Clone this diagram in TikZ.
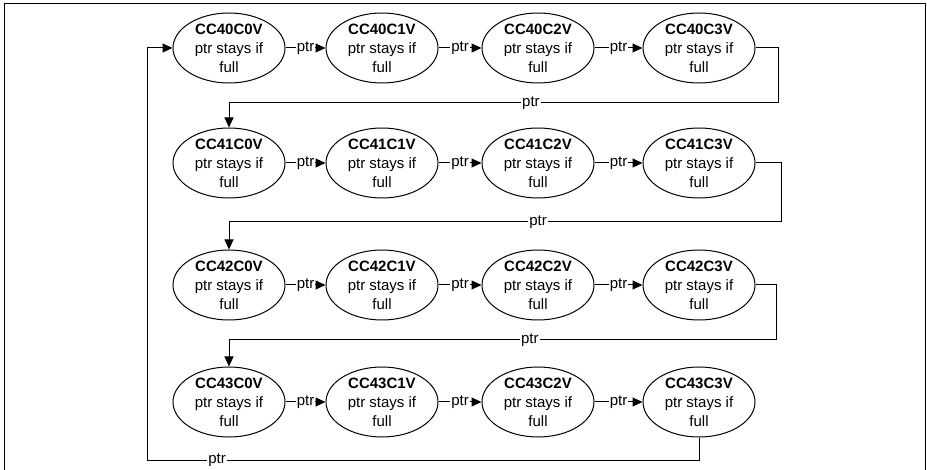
\documentclass[tikz,border=0pt]{standalone}
\usepackage{fontspec}
\setmainfont{Liberation Sans}
\usetikzlibrary{shapes.geometric,arrows.meta}
\begin{document}
\begin{tikzpicture}[x=1pt,y=-1pt,
  state/.style={ellipse,draw,line width=1pt,minimum width=112pt,minimum height=70pt,inner sep=0pt,align=center,font=\fontsize{15}{19}\selectfont},
  conn/.style={draw,line width=1pt,-{Triangle[length=10pt,width=9pt]}},
  lbl/.style={fill=white,inner sep=1pt,font=\fontsize{15}{15}\selectfont}
]
\useasboundingbox (0,0) rectangle (927,470);
\draw[line width=1pt] (4,480) -- (4,4) -- (925,4) -- (925,480);

\foreach \r/\y/\k in {0/48/40,1/163/41,2/285/42,3/402/43}{
  \foreach \c/\x in {0/229,1/382,2/538,3/699}{
    \node[state] (n\r\c) at (\x,\y) {\textbf{CC\k C\c V}\\ptr stays if\\full};
  }
}
\foreach \r in {0,1,2,3}{
  \foreach \c/\d in {0/1,1/2,2/3}{
    \draw[conn] (n\r\c) -- node[lbl]{ptr} (n\r\d);
  }
}
% row turns
\coordinate (t0a) at (778,48);
\coordinate (t0b) at (778,103);
\draw[conn] (n03.east) -- (t0a) -- (t0b) -- node[lbl,pos=0.45]{ptr} (t0b -| n10.north) -- (n10.north);
\coordinate (t1a) at (781,163);
\coordinate (t1b) at (781,222);
\draw[conn] (n13.east) -- (t1a) -- (t1b) -- node[lbl,pos=0.44]{ptr} (t1b -| n20.north) -- (n20.north);
\coordinate (t2a) at (776,285);
\coordinate (t2b) at (776,340);
\draw[conn] (n23.east) -- (t2a) -- (t2b) -- node[lbl,pos=0.45]{ptr} (t2b -| n30.north) -- (n30.north);
% back to start
\coordinate (b0) at (699,460);
\coordinate (b1) at (147,460);
\draw[conn] (n33.south) -- (b0) -- node[lbl,pos=0.873]{ptr} (b1) -- (b1 |- n00.west) -- (n00.west);
\end{tikzpicture}
\end{document}
